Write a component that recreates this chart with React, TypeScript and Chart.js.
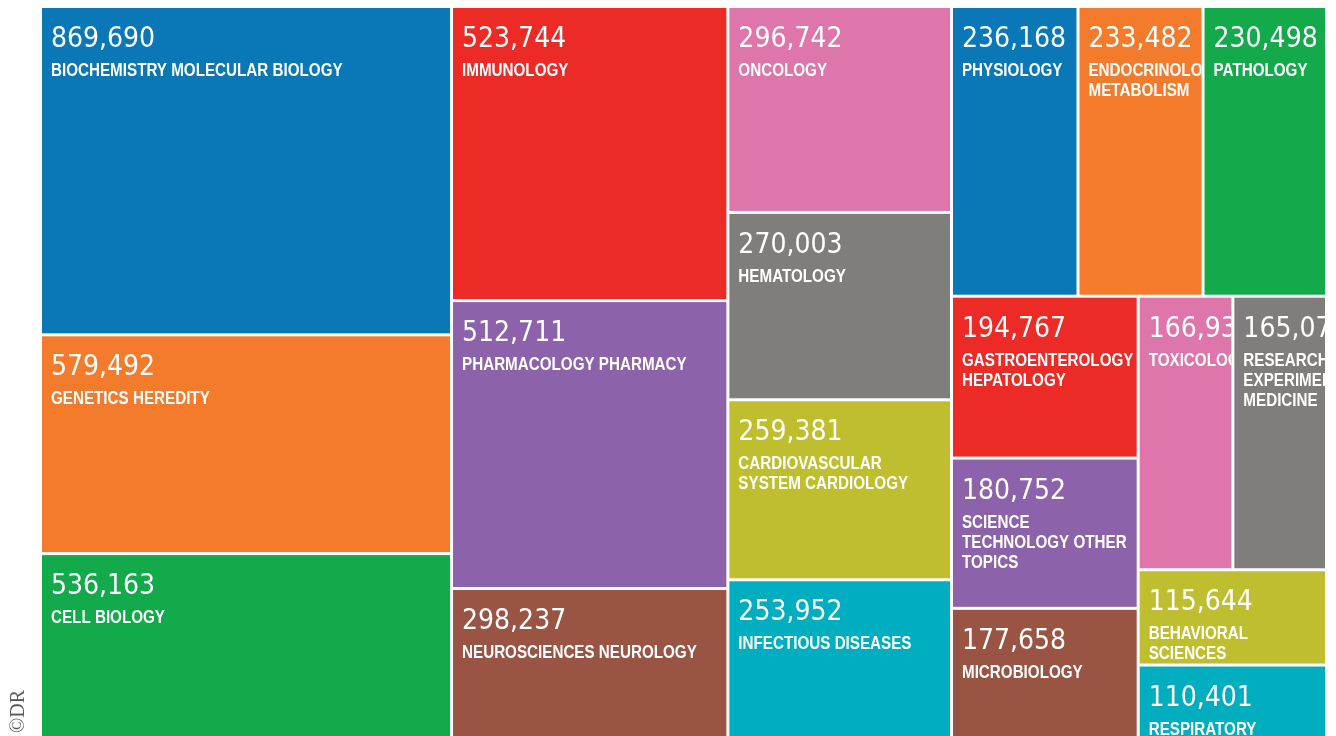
import { useEffect, useRef } from 'react';
import { Chart, registerables } from 'chart.js';

Chart.register(...registerables);

// ---- data ----
const categories: string[] = [
  'BIOCHEMISTRY MOLECULAR BIOLOGY',
  'GENETICS HEREDITY',
  'CELL BIOLOGY',
  'IMMUNOLOGY',
  'PHARMACOLOGY PHARMACY',
  'NEUROSCIENCES NEUROLOGY',
  'ONCOLOGY',
  'HEMATOLOGY',
  'CARDIOVASCULAR SYSTEM CARDIOLOGY',
  'INFECTIOUS DISEASES',
  'PHYSIOLOGY',
  'ENDOCRINOLOGY METABOLISM',
  'PATHOLOGY',
  'GASTROENTEROLOGY HEPATOLOGY',
  'SCIENCE TECHNOLOGY OTHER TOPICS',
  'MICROBIOLOGY',
  'TOXICOLOGY',
  'RESEARCH EXPERIMENTAL MEDICINE',
  'BEHAVIORAL SCIENCES',
  'RESPIRATORY SYSTEM',
];

const values: number[] = [
  869690, 579492, 536163,
  523744, 512711, 298237,
  296742, 270003, 259381, 253952,
  236168, 233482, 230498,
  194767, 180752, 177658,
  166934, 165077, 115644, 110401,
];

const palette: string[] = [
  '#0a77b6', '#f47b2b', '#12aa4b',
  '#ec2b27', '#8c63aa', '#9a5444',
  '#df76ab', '#7f7e7c', '#bfbe2f', '#00aec0',
  '#0a77b6', '#f47b2b', '#12aa4b',
  '#ec2b27', '#8c63aa', '#9a5444',
  '#df76ab', '#7f7e7c', '#bfbe2f', '#00aec0',
];

// grouping of the treemap (indices into the arrays above)
type TNode = number | { dir: 'h' | 'v'; kids: TNode[] };
const tree: TNode = {
  dir: 'h',
  kids: [
    { dir: 'v', kids: [0, 1, 2] },
    { dir: 'v', kids: [3, 4, 5] },
    { dir: 'v', kids: [6, 7, 8, 9] },
    {
      dir: 'v',
      kids: [
        { dir: 'h', kids: [10, 11, 12] },
        {
          dir: 'h',
          kids: [
            { dir: 'v', kids: [13, 14, 15] },
            { dir: 'v', kids: [{ dir: 'h', kids: [16, 17] }, 18, 19] },
          ],
        },
      ],
    },
  ],
};

type Cell = { i: number; x0: number; y0: number; x1: number; y1: number };

function nodeSum(n: TNode): number {
  if (typeof n === 'number') return values[n];
  return n.kids.reduce((s, k) => s + nodeSum(k), 0);
}

function layout(n: TNode, x0: number, y0: number, x1: number, y1: number, out: Cell[]) {
  if (typeof n === 'number') {
    out.push({ i: n, x0, y0, x1, y1 });
    return;
  }
  const total = nodeSum(n);
  let acc = 0;
  for (const k of n.kids) {
    const a = acc / total;
    acc += nodeSum(k);
    const b = acc / total;
    if (n.dir === 'h') layout(k, x0 + (x1 - x0) * a, y0, x0 + (x1 - x0) * b, y1, out);
    else layout(k, x0, y0 + (y1 - y0) * a, x1, y0 + (y1 - y0) * b, out);
  }
}

const cells: Cell[] = [];
layout(tree, 0, 0, 1, 1, cells);

const GAP = 1.5;
const LABEL_SQUEEZE = 0.8;

function wrap(ctx: CanvasRenderingContext2D, text: string, maxW: number): string[] {
  const words = text.split(' ');
  const lines: string[] = [];
  let cur = '';
  for (const w of words) {
    const t = cur ? cur + ' ' + w : w;
    if (cur && ctx.measureText(t).width > maxW) {
      lines.push(cur);
      cur = w;
    } else cur = t;
  }
  if (cur) lines.push(cur);
  return lines;
}

const treemapPlugin = {
  id: 'treemapCells',
  beforeDatasetsDraw(chart: any) {
    const { ctx, scales } = chart;
    const xs = scales.x;
    const ys = scales.y;
    for (const c of cells) {
      const l = xs.getPixelForValue(c.x0) + GAP;
      const r = xs.getPixelForValue(c.x1) - GAP;
      const t = ys.getPixelForValue(c.y0) + GAP;
      const b = ys.getPixelForValue(c.y1) - GAP;
      ctx.save();
      ctx.fillStyle = palette[c.i];
      ctx.fillRect(l, t, r - l, b - t);
      ctx.beginPath();
      ctx.rect(l, t, r - l, b - t);
      ctx.clip();
      ctx.fillStyle = '#ffffff';
      ctx.textBaseline = 'alphabetic';
      ctx.textAlign = 'left';
      (ctx as any).fontStretch = 'condensed';
      ctx.font = '28px "DejaVu Sans Condensed", "DejaVu Sans", sans-serif';
      ctx.fillText(values[c.i].toLocaleString('en-US'), l + 9, t + 39);
      (ctx as any).fontStretch = 'normal';
      ctx.font = 'bold 19px "Liberation Sans", Arial, sans-serif';
      const lines = wrap(ctx, categories[c.i], (r - l - 16) / LABEL_SQUEEZE);
      lines.forEach((ln, k) => {
        ctx.save();
        ctx.translate(l + 9, t + 68 + k * 20);
        ctx.scale(LABEL_SQUEEZE, 1);
        ctx.fillText(ln, 0, 0);
        ctx.restore();
      });
      ctx.restore();
    }
  },
};

export default function App() {
  const ref = useRef<HTMLCanvasElement | null>(null);
  useEffect(() => {
    if (!ref.current) return;
    const chart = new Chart(ref.current, {
      type: 'scatter',
      data: {
        datasets: [
          {
            data: cells.map((c) => ({ x: (c.x0 + c.x1) / 2, y: (c.y0 + c.y1) / 2 })),
            pointRadius: 0,
            pointHoverRadius: 0,
          },
        ],
      },
      options: {
        animation: false,
        responsive: false,
        events: [],
        layout: { padding: { left: 40.5, right: 9.5, top: 6.5, bottom: 0 } },
        scales: {
          x: { type: 'linear', min: 0, max: 1, display: false },
          y: { type: 'linear', min: 0, max: 1, reverse: true, display: false },
        },
        plugins: { legend: { display: false }, tooltip: { enabled: false } },
      },
      plugins: [treemapPlugin],
    });
    return () => chart.destroy();
  }, []);

  return (
    <div
      style={{
        position: 'absolute',
        left: 0,
        top: 0,
        width: 1336,
        height: 736,
        overflow: 'hidden',
        background: '#ffffff',
      }}
    >
      <canvas ref={ref} width={1336} height={756} style={{ width: 1336, height: 756, display: 'block' }} />
      <div
        style={{
          position: 'absolute',
          left: 6,
          top: 733,
          transformOrigin: '0 0',
          transform: 'rotate(-90deg)',
          fontFamily: '"Liberation Serif", "DejaVu Serif", serif',
          fontSize: 20,
          lineHeight: '22px',
          color: '#5a5a5a',
          whiteSpace: 'nowrap',
        }}
      >
        ©DR
      </div>
    </div>
  );
}
